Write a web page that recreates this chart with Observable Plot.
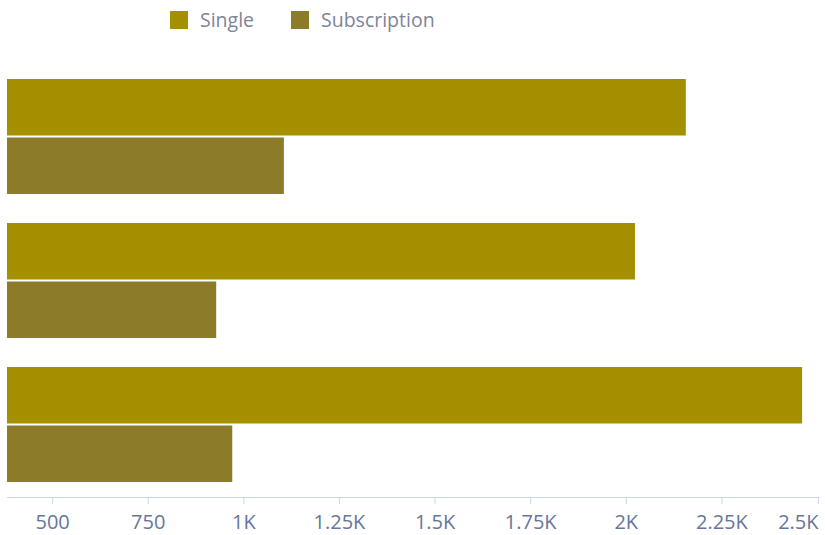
<!DOCTYPE html>
<html>
<head>
<meta charset="utf-8">
<script src="https://cdn.jsdelivr.net/npm/d3@7"></script>
<script src="https://cdn.jsdelivr.net/npm/@observablehq/plot@0.6"></script>
<style>
  html, body { margin: 0; padding: 0; background: #fff; }
  body { width: 825px; height: 535px; overflow: hidden; font-family: "Open Sans", sans-serif; }
  #legend { height: 42px; position: relative; }
  .item { position: absolute; top: 6px; display: flex; align-items: center; font-size: 19.5px; color: #7d8597; }
  .sw { width: 18px; height: 18px; margin-right: 12px; }
</style>
</head>
<body>
<div id="legend"></div>
<div id="chart"></div>
<script>
const groups = ["A", "B", "C"];
const series = ["Single", "Subscription"];
const singleValues = [2157, 2024, 2461];
const subscriptionValues = [1106, 929, 971];
const xTicks = [500, 750, 1000, 1250, 1500, 1750, 2000, 2250, 2500];
const colors = ["#a38f00", "#8c7b29"];

const data = groups.flatMap((g, i) => [
  {group: g, series: "Single", value: singleValues[i]},
  {group: g, series: "Subscription", value: subscriptionValues[i]}
]);

// legend
const legend = document.getElementById("legend");
const legendX = [170, 291];
series.forEach((s, i) => {
  const it = document.createElement("div");
  it.className = "item";
  it.style.left = legendX[i] + "px";
  it.innerHTML = `<span class="sw" style="background:${colors[i]}"></span><span>${s}</span>`;
  legend.appendChild(it);
});

const fmt = d => d >= 1000 ? (d / 1000) + "K" : String(d);
const half = 58.5;
const axisStyle = {
  anchor: "bottom", tickFormat: fmt, label: null,
  tickSize: 7, tickPadding: 10, stroke: "#ccd6eb", color: "#67769a", fontSize: 20
};

const plot = Plot.plot({
  width: 825,
  height: 493,
  marginLeft: 7,
  marginRight: 8,
  marginTop: 36,
  marginBottom: 38,
  style: {fontFamily: "Open Sans, sans-serif", fontSize: "20px", background: "#fff"},
  x: {domain: [382, 2500], clamp: true, axis: null, label: null},
  y: {domain: groups, paddingInner: 0.204, paddingOuter: 0, insetBottom: 15, axis: null, label: null},
  color: {domain: series, range: colors},
  marks: [
    Plot.barX(data.filter(d => d.series === "Single"), {
      y: "group", x: "value", fill: "series", insetBottom: half
    }),
    Plot.barX(data.filter(d => d.series === "Subscription"), {
      y: "group", x: "value", fill: "series", insetTop: half
    }),
    Plot.frame({anchor: "bottom", stroke: "#ccd6eb"}),
    Plot.axisX({...axisStyle, ticks: xTicks.slice(0, -1)}),
    Plot.axisX({...axisStyle, ticks: xTicks.slice(-1), textAnchor: "end", dx: 1})
  ]
});
document.getElementById("chart").appendChild(plot);
</script>
</body>
</html>
